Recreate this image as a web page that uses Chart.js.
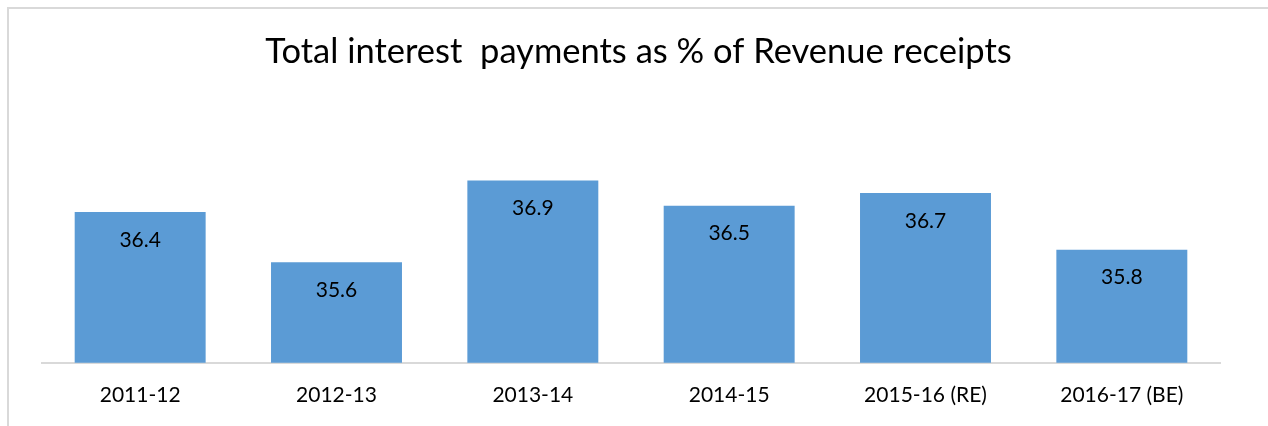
<!DOCTYPE html>
<html>
<head>
<meta charset="utf-8">
<script src="https://cdn.jsdelivr.net/npm/chart.js@4"></script>
<style>
  html, body { margin: 0; padding: 0; background: #fff; }
  #frame { position: absolute; left: 7px; top: 7px; width: 1400px; height: 500px;
           border-left: 2px solid #d9d9d9; border-top: 2px solid #d9d9d9; }
  #wrap { position: absolute; left: 0; top: 0; width: 1268px; height: 426px; }
</style>
</head>
<body>
<div id="frame"></div>
<div id="wrap"><canvas id="grafico"></canvas></div>
<script>
const categorias = ['2011-12', '2012-13', '2013-14', '2014-15', '2015-16 (RE)', '2016-17 (BE)'];
const valores = [36.4, 35.6, 36.9, 36.5, 36.7, 35.8];
const yMin = 34;
const yMax = 38;

const fonte = 'Lato';

// rotulos de valor dentro da barra, perto do topo
const rotulos = {
    id: 'rotulos',
    afterDatasetsDraw(chart) {
        const c = chart.ctx;
        const meta = chart.getDatasetMeta(0);
        c.save();
        c.font = '21px ' + fonte;
        c.fillStyle = '#000';
        c.textAlign = 'center';
        c.textBaseline = 'middle';
        meta.data.forEach((bar, i) => {
            c.fillText(valores[i].toFixed(1), bar.x, bar.y + 28);
        });
        c.restore();
    }
};

// eixos invisiveis so para reservar espaco nas laterais
const eixoVazio = (pos, largura) => ({
    position: pos,
    ticks: { display: false },
    grid: { display: false, drawTicks: false },
    border: { display: false },
    afterFit(scale) { scale.width = largura; }
});

const ctx = document.getElementById('grafico');

new Chart(ctx, {
    type: 'bar',
    data: {
        labels: categorias,
        datasets: [{
            label: 'Total interest payments',
            data: valores,
            backgroundColor: '#5B9BD5',
            borderWidth: 0,
            barPercentage: 0.667,
            categoryPercentage: 1,
            yAxisID: 'y'
        }]
    },
    options: {
        responsive: true,
        maintainAspectRatio: false,
        animation: false,
        layout: { padding: { left: 9, right: 0, top: 0, bottom: -2 } },
        plugins: {
            legend: { display: false },
            tooltip: { enabled: false },
            title: {
                display: true,
                text: 'Total interest  payments as % of Revenue receipts',
                color: '#000',
                font: { family: fonte, size: 34.5, weight: 'normal', lineHeight: 1.2 },
                padding: { top: 31, bottom: 39 }
            }
        },
        scales: {
            x: {
                grid: { display: false, drawTicks: false },
                border: { display: true, color: '#d9d9d9', width: 2 },
                ticks: { color: '#000', padding: 20, font: { family: fonte, size: 21 } }
            },
            y: Object.assign(eixoVazio('left', 33), { min: yMin, max: yMax }),
            y2: eixoVazio('right', 48)
        }
    },
    plugins: [rotulos]
});
</script>
</body>
</html>
